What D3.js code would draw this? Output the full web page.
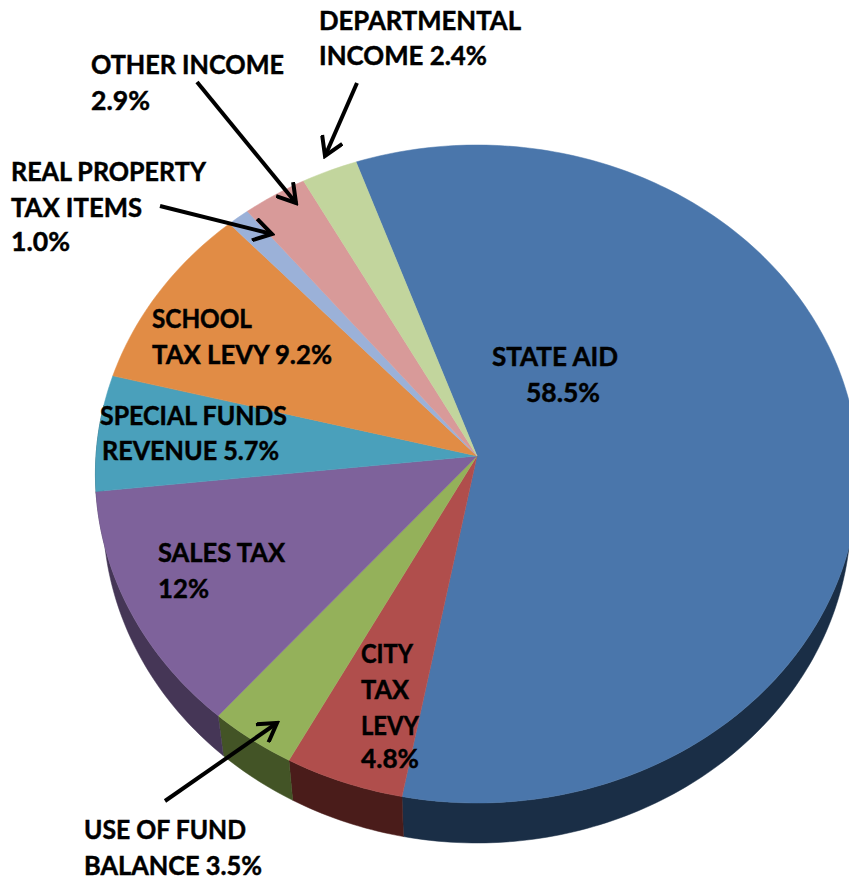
<!DOCTYPE html>
<html>
<head>
<meta charset="utf-8">
<script src="https://cdn.jsdelivr.net/npm/d3@7"></script>
<style>
  html, body { margin: 0; padding: 0; background: #fff; overflow: hidden; }
  svg { display: block; }
  text { font-family: Lato, "Open Sans", sans-serif; font-weight: bold; fill: #000; stroke: #000; stroke-width: 0.45; }
</style>
</head>
<body>
<div id="chart"></div>
<script>
// slices clockwise, starting at STATE AID. shares are what the drawn angles measure
const categories = ["STATE AID", "CITY TAX LEVY", "USE OF FUND BALANCE", "SALES TAX", "SPECIAL FUNDS REVENUE",
    "SCHOOL TAX LEVY", "REAL PROPERTY TAX ITEMS", "OTHER INCOME", "DEPARTMENTAL INCOME"]
const shares = [58.4, 4.8, 3.5, 12, 5.7, 9.2, 1.0, 2.9, 2.5]
const topColors = ["#4a76ab", "#b04e4c", "#94b15a", "#7e629b", "#4aa0bb", "#e18c45", "#9bb1d8", "#d89a99", "#c2d59d"]
const wallColors = ["#1a2e46", "#4a1c1a", "#435426", "#453656", "#1f5563", "#7a4518", "#4f5f7d", "#7a4a49", "#66734c"]

const labelLines = [
    ["STATE AID", "58.5%"],
    ["CITY", "TAX", "LEVY", "4.8%"],
    ["USE OF FUND", "BALANCE 3.5%"],
    ["SALES TAX", "12%"],
    ["SPECIAL FUNDS", "REVENUE 5.7%"],
    ["SCHOOL", "TAX LEVY 9.2%"],
    ["REAL PROPERTY", "TAX ITEMS", "1.0%"],
    ["OTHER INCOME", "2.9%"],
    ["DEPARTMENTAL", "INCOME 2.4%"]
]

// layout
const width = 849, height = 879
const labelSpots = [
    [[492, 366], [526, 402]],
    [[361, 663], [361, 699], [361, 735], [361, 768]],
    [[84, 839], [84, 875]],
    [[158, 562], [158, 598]],
    [[100, 425], [102, 460]],
    [[152, 328], [152, 364]],
    [[11, 181], [11, 217], [11, 251]],
    [[91, 74], [91, 110]],
    [[319, 30], [319, 65]]
]
// Lato is not quite Calibri, so each line is fitted to the width it has in the picture
const labelWidths = [
    [126, 74],
    [52, 48, 58, 58],
    [162, 178],
    [127, 51],
    [187, 177],
    [100, 180],
    [195, 131, 59],
    [193, 59],
    [202, 168]
]
const arrows = [
    [[357, 83], [325, 156]],
    [[197, 82], [296, 203]],
    [[160, 206], [272, 234]],
    [[165, 801], [277, 723]]
]

const pieCenter = { x: 477, y: 456 }
const persp = { radiusX: 381, radiusY: 328, tilt: -0.0547 }
const wall = { depth: 40, shrink: 0.98 }

// the pie is a circle seen in perspective, so the hub sits above the middle of the ellipse
function project(angle) {
    let u = Math.sin(angle), v = -Math.cos(angle)
    let w = 1 + persp.tilt * v
    return [pieCenter.x + persp.radiusX * u / w, pieCenter.y + persp.radiusY * v / w]
}

function projectLow(angle) {
    let p = project(angle)
    return [pieCenter.x + (p[0] - pieCenter.x) * wall.shrink, p[1] + wall.depth]
}

function sampleAngles(a0, a1) {
    let n = Math.max(2, Math.ceil((a1 - a0) / (Math.PI / 180)))
    return d3.range(n + 1).map(i => a0 + (a1 - a0) * i / n)
}

const startAngle = -19.5 * Math.PI / 180
const pie = d3.pie().sort(null).value(d => d).startAngle(startAngle).endAngle(startAngle + 2 * Math.PI)
const slices = pie(shares)
const line = d3.line()

const svg = d3.select("#chart").append("svg").attr("width", width).attr("height", height)

// arrow head
svg.append("defs").append("marker")
    .attr("id", "head")
    .attr("viewBox", "0 0 24 24")
    .attr("markerUnits", "userSpaceOnUse")
    .attr("markerWidth", 24).attr("markerHeight", 24)
    .attr("refX", 21).attr("refY", 12)
    .attr("orient", "auto")
    .append("path")
    .attr("d", "M3,1 L21,12 L3,23")
    .attr("fill", "none")
    .attr("stroke", "#000")
    .attr("stroke-width", 4)

// 1. side wall, only the front half can be seen
const wallFrom = Math.PI * 0.45, wallTo = Math.PI * 1.55
svg.append("g").selectAll("path")
    .data(slices.filter(d => d.endAngle > wallFrom && d.startAngle < wallTo))
    .join("path")
    .attr("d", d => {
        let angles = sampleAngles(Math.max(d.startAngle, wallFrom), Math.min(d.endAngle, wallTo))
        return line(angles.map(project).concat(angles.slice().reverse().map(projectLow))) + "Z"
    })
    .attr("fill", d => wallColors[d.index])
    .attr("stroke", d => wallColors[d.index])
    .attr("stroke-width", 0.5)

// 2. top surface
svg.append("g").selectAll("path")
    .data(slices)
    .join("path")
    .attr("d", d => line([[pieCenter.x, pieCenter.y]].concat(sampleAngles(d.startAngle, d.endAngle).map(project))) + "Z")
    .attr("fill", d => topColors[d.index])
    .attr("stroke", d => topColors[d.index])
    .attr("stroke-width", 0.5)

// 3. labels
svg.append("g").selectAll("text")
    .data(labelLines.flatMap((lines, i) => lines.map((t, j) => ({ t: t, spot: labelSpots[i][j], w: labelWidths[i][j] }))))
    .join("text")
    .attr("x", d => d.spot[0])
    .attr("y", d => d.spot[1])
    .attr("font-size", 25.8)
    .attr("textLength", d => d.w)
    .attr("lengthAdjust", "spacingAndGlyphs")
    .text(d => d.t)

// 4. arrows
svg.append("g").selectAll("path")
    .data(arrows)
    .join("path")
    .attr("d", d => line(d))
    .attr("fill", "none")
    .attr("stroke", "#000")
    .attr("stroke-width", 4)
    .attr("marker-end", "url(#head)")
</script>
</body>
</html>
